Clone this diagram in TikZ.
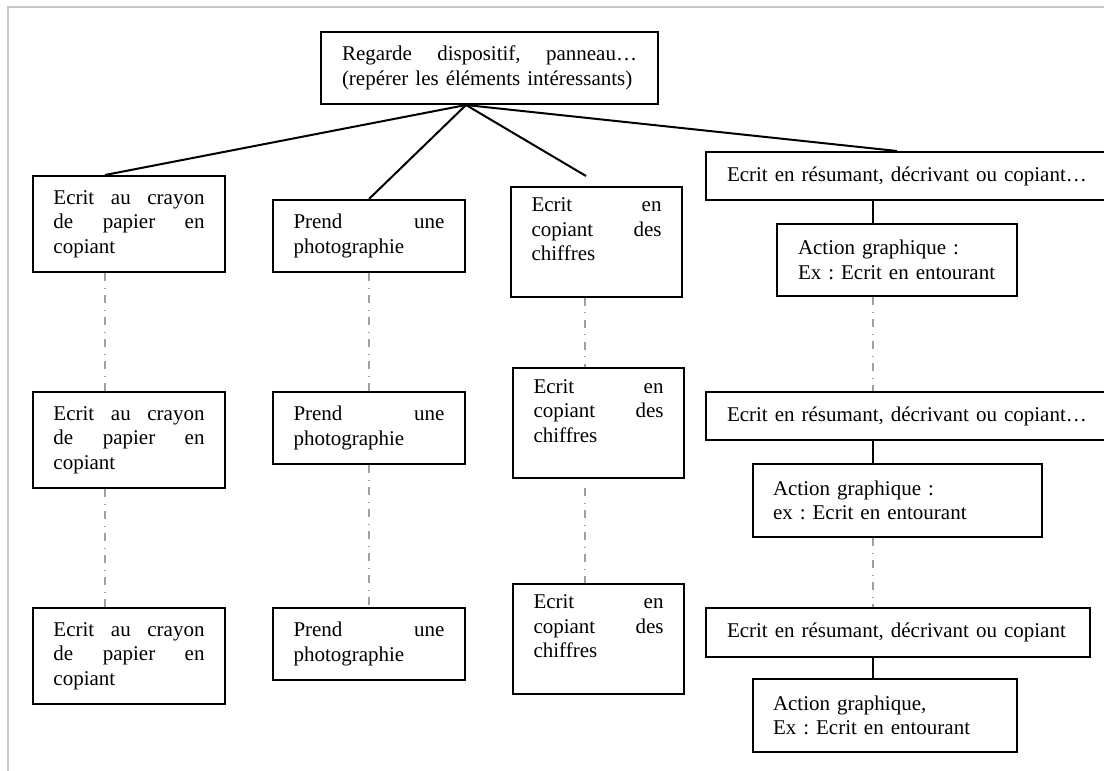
\documentclass[tikz,border=0pt]{standalone}
\usepackage{fontspec}
\setmainfont{Liberation Serif}
\frenchspacing
\hyphenpenalty=10000

\begin{document}
\begin{tikzpicture}[
  x=0.5pt, y=-0.5pt,
  box/.style={draw, line width=1pt, align=left, inner sep=0pt, font={\fontsize{10.5}{12.3}\selectfont}},
  copybox/.style={box, minimum width=96pt, minimum height=48pt, text width=75.5pt},
  photobox/.style={box, minimum width=96pt, minimum height=36pt, text width=75.5pt},
  digitbox/.style={box, minimum width=85.5pt, minimum height=55pt, text width=65pt},
  summarybox/.style={box, anchor=west, minimum width=202.5pt, minimum height=24pt, text width=181.5pt},
  actionbox/.style={box, minimum height=36.5pt},
  link/.style={line width=1pt},
  dotlink/.style={line width=0.6pt, gray!75, dash pattern=on 4pt off 3.25pt on 0.5pt off 3.25pt},
  frameline/.style={line width=0.6pt, gray!45}
]
\useasboundingbox (0,0) rectangle (1104,771);
\draw[frameline] (8,780) -- (8,7) -- (1110,7);

\node[box, minimum width=168.5pt, minimum height=36pt, text width=147.5pt] (look) at (489.5,68) {Regarde\hfill dispositif,\hfill panneau…\\(repérer les éléments intéressants)};

\node[copybox] (copy1) at (129,224) {Ecrit\hfill au\hfill crayon\\de\hfill papier\hfill en\\copiant};
\node[copybox] (copy2) at (129,440) {Ecrit\hfill au\hfill crayon\\de\hfill papier\hfill en\\copiant};
\node[copybox] (copy3) at (129,656) {Ecrit\hfill au\hfill crayon\\de\hfill papier\hfill en\\copiant};

\node[photobox] (photo1) at (369,236) {Prend\hfill une\\photographie};
\node[photobox] (photo2) at (369,428) {Prend\hfill une\\photographie};
\node[photobox] (photo3) at (369,644) {Prend\hfill une\\photographie};

\node[digitbox] (digit1) at (596.5,241.5) {Ecrit\hfill en\\copiant\hfill des\\chiffres\\\mbox{}};
\node[digitbox] (digit2) at (598.5,423) {Ecrit\hfill en\\copiant\hfill des\\chiffres\\\mbox{}};
\node[digitbox] (digit3) at (598.5,638.5) {Ecrit\hfill en\\copiant\hfill des\\chiffres\\\mbox{}};

\node[summarybox] (sum1) at (705,176) {Ecrit en résumant, décrivant ou copiant…};
\node[actionbox, minimum width=120pt, minimum height=36pt, text width=99pt] (act1) at (897,260) {Action graphique :\\Ex : Ecrit en entourant};
\node[summarybox] (sum2) at (705,416) {Ecrit en résumant, décrivant ou copiant…};
\node[actionbox, minimum width=144.5pt, text width=124.5pt] (act2) at (897.5,500.5) {Action graphique :\\ex : Ecrit en entourant};
\node[summarybox, minimum width=192pt, minimum height=24.5pt, text width=171pt] (sum3) at (705,632.5) {Ecrit en résumant, décrivant ou copiant};
\node[actionbox, minimum width=132pt, text width=112pt] (act3) at (885,715.5) {Action graphique,\\Ex : Ecrit en entourant};

\coordinate (hub) at ([xshift=-11.75pt]look.south);
\coordinate (ax1) at (105,0);
\coordinate (ax2) at (369,0);
\coordinate (ax3) at (585,0);
\coordinate (ax4) at (873,0);
\coordinate (digitend) at (586,176);
\coordinate (digitgap) at (585,488);

\draw[link] (hub) -- (ax1 |- copy1.north);
\draw[link] (hub) -- (photo1.north);
\draw[link] (hub) -- (digitend);
\draw[link] (hub) -- (act1.north |- sum1.north);

\foreach \a/\b in {copy1/copy2, copy2/copy3}
  \draw[dotlink] (ax1 |- \a.south) -- (ax1 |- \b.north);
\foreach \a/\b in {photo1/photo2, photo2/photo3}
  \draw[dotlink] (ax2 |- \a.south) -- (ax2 |- \b.north);
\draw[dotlink] (ax3 |- digit1.south) -- (ax3 |- digit2.north);
\draw[dotlink] (digitgap) -- (ax3 |- digit3.north);

\foreach \a/\b in {sum1/act1, sum2/act2, sum3/act3}
  \draw[link] (ax4 |- \a.south) -- (ax4 |- \b.north);
\foreach \a/\b in {act1/sum2, act2/sum3}
  \draw[dotlink] (ax4 |- \a.south) -- (ax4 |- \b.north);
\end{tikzpicture}
\end{document}
